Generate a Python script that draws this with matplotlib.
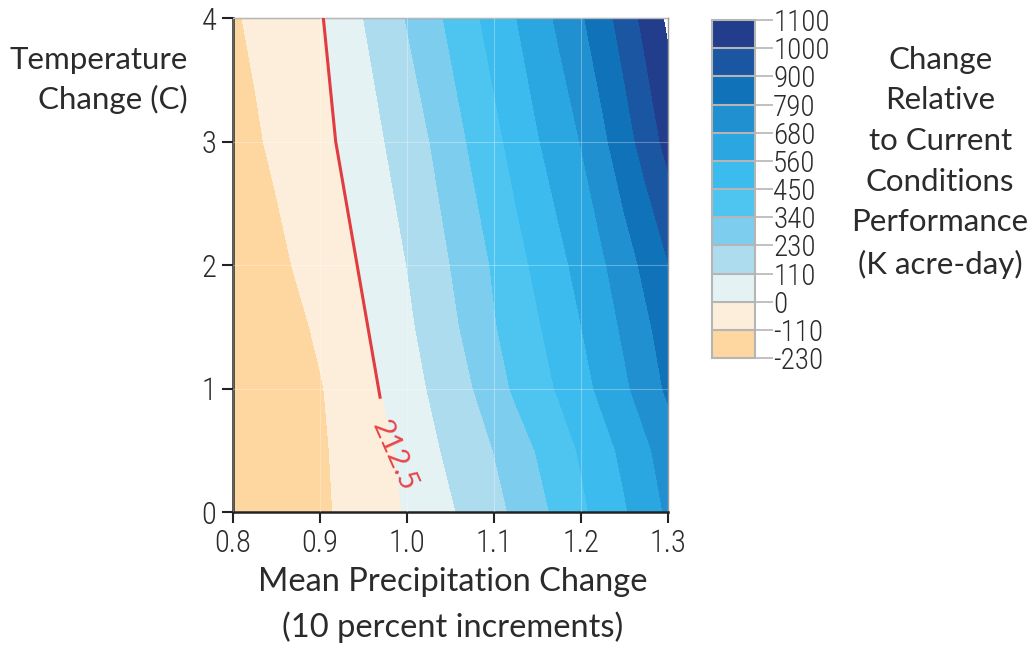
import numpy as np
import matplotlib
matplotlib.use("Agg")
import matplotlib.pyplot as plt
from matplotlib import font_manager as fm

# grid
precip = [0.800, 0.825, 0.850, 0.875, 0.900, 0.925, 0.950, 0.975, 1.000, 1.025, 1.050,
          1.075, 1.100, 1.125, 1.150, 1.175, 1.200, 1.225, 1.250, 1.275, 1.300]
temp = [0, 0.5, 1, 1.5, 2, 3, 4]

row_t0 = [-202, -182, -162, -146, -128, -97, -63, -28, 8, 52, 97,
          146, 197, 250, 307, 367, 429, 490, 549, 622, 698]
row_t05 = [-199, -179, -159, -143, -124, -91, -55, -19, 26, 81, 134,
           183, 232, 290, 347, 404, 462, 522, 587, 662, 735]
row_t1 = [-195, -175, -155, -138, -117, -77, -35, 9, 62, 115, 171,
          227, 295, 357, 409, 462, 522, 587, 661, 735, 808]
row_t15 = [-200, -175, -150, -128, -93, -50, -6, 41, 89, 144, 204,
           267, 332, 387, 440, 498, 558, 629, 700, 772, 844]
row_t2 = [-207, -171, -135, -99, -63, -27, 12, 61, 111, 171, 231,
          291, 352, 414, 474, 532, 596, 667, 742, 818, 896]
row_t3 = [-156, -123, -90, -58, -25, 12, 61, 111, 169, 227, 292,
          357, 422, 487, 552, 618, 684, 768, 857, 945, 1032]
row_t4 = [-122, -93, -64, -35, -7, 48, 110, 173, 236, 298, 362,
          427, 492, 557, 629, 701, 776, 859, 945, 1031, 1119]

levels = [-230, -110, 0, 110, 230, 340, 450, 560, 680, 790, 900, 1000, 1100]
colors = ['#fdd6a0', '#fdeedb', '#e4f2f3', '#acdcee', '#7dcdef', '#4ec5f1',
          '#3bbbee', '#2aa6e0', '#2090d0', '#1072b9', '#1b56a3', '#223d8c']

# red 212.5 line
red_x = [0.9038, 0.918, 0.969]
red_y = [4.0, 3.0, 0.93]

Z = np.array([row_t0, row_t05, row_t1, row_t15, row_t2, row_t3, row_t4])
X, Y = np.meshgrid(precip, temp)

# pick a narrow font for the numbers if there is one
names = {f.name for f in fm.fontManager.ttflist}
narrow = [f.name for f in fm.fontManager.ttflist if f.stretch in ('condensed', 'semi-condensed')]
tick_font = 'Roboto'
tick_stretch = 'normal'
for cand in ['Roboto Condensed', 'Liberation Sans Narrow', 'Noto Sans Condensed',
             'Open Sans Condensed', 'DejaVu Sans Condensed']:
    if cand in names:
        tick_font = cand
        break
else:
    if narrow:
        tick_font = narrow[0]
        tick_stretch = 'condensed'
tick_font = [tick_font, 'DejaVu Sans']
label_font = ['Lato', 'DejaVu Sans']
txt = '#2b2b2b'

fig = plt.figure(figsize=(10.32, 6.46), dpi=100)
ax = fig.add_axes([0.2258, 0.2074, 0.4215, 0.7647])
cs = ax.contourf(X, Y, Z, levels=levels, colors=colors)
ax.plot(red_x, red_y, color='#e23b40', lw=2.2, zorder=3)
ax.text(0.985, 0.455, '212.5', color='#e8454a', rotation=-66, fontsize=21,
        family=label_font, ha='center', va='center', zorder=3)

ax.set_xlim(0.8, 1.3)
ax.set_ylim(0, 4)
ax.set_xticks([0.8, 0.9, 1.0, 1.1, 1.2, 1.3])
ax.set_xticklabels(['0.8', '0.9', '1.0', '1.1', '1.2', '1.3'])
ax.set_yticks([0, 1, 2, 3, 4])
ax.grid(color='white', alpha=0.3, lw=0.8)
ax.set_axisbelow(False)
ax.tick_params(direction='out', length=8, width=1.5, color='#222', labelsize=22,
               labelcolor=txt, pad=4)
for lab in ax.get_xticklabels() + ax.get_yticklabels():
    lab.set_family(tick_font)
    lab.set_fontstretch(tick_stretch)
    lab.set_fontweight('light')
for s in ['left', 'bottom']:
    ax.spines[s].set_color('#222')
    ax.spines[s].set_linewidth(1.8)
for s in ['top', 'right']:
    ax.spines[s].set_color('#999')
    ax.spines[s].set_linewidth(1.0)

fig.text(0.4385, 0.099, 'Mean Precipitation Change', ha='center', va='center',
         fontsize=23.5, color=txt, family=label_font)
fig.text(0.4385, 0.029, '(10 percent increments)', ha='center', va='center',
         fontsize=23.5, color=txt, family=label_font)
fig.text(0.182, 0.876, 'Temperature\nChange (C)', ha='right', va='center',
         fontsize=22.5, color=txt, family=label_font, linespacing=1.42)

# colorbar
cax = fig.add_axes([0.690, 0.4458, 0.0417, 0.5232])
cb = fig.colorbar(cs, cax=cax, drawedges=True)
cb.set_ticks(levels)
cb.set_ticklabels([str(v) for v in levels])
cb.outline.set_edgecolor('#b5b5b5')
cb.outline.set_linewidth(1.5)
cb.dividers.set_color('#b5b5b5')
cb.dividers.set_linewidth(1.5)
cax.tick_params(direction='out', length=13, width=1.2, color='#b5b5b5',
                labelsize=21, labelcolor=txt, pad=0)
for lab in cax.get_yticklabels():
    lab.set_family(tick_font)
    lab.set_fontstretch(tick_stretch)
    lab.set_fontweight('light')

fig.text(0.911, 0.749, 'Change\nRelative\nto Current\nConditions\nPerformance\n(K acre-day)',
         ha='center', va='center', fontsize=22.5, color=txt, family=label_font,
         linespacing=1.55)

fig.savefig('out.png', dpi=100)
